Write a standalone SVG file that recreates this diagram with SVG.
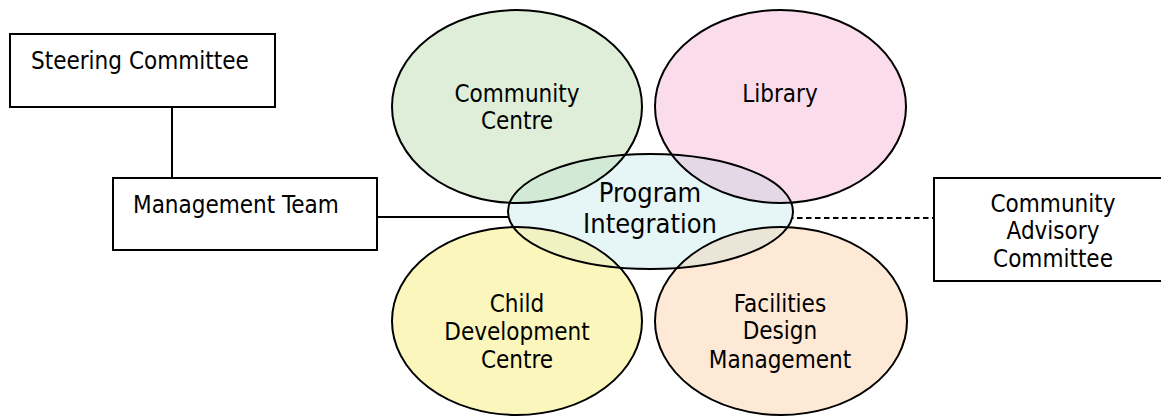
<svg xmlns="http://www.w3.org/2000/svg" width="1161" height="417" viewBox="0 0 1161 417">
<style>
text{font-family:"DejaVu Sans Condensed","Open Sans","DejaVu Sans",sans-serif;font-size:24px;fill:#000}
.c{text-anchor:middle}
.big{font-size:27px}
.box{fill:#fff;stroke:#000;stroke-width:2}
.ol{fill:none;stroke:#000;stroke-width:2}
.ln{fill:none;stroke:#000;stroke-width:2}
.e{stroke:#000;stroke-width:2}
</style>
<defs>
<clipPath id="pi"><ellipse cx="650.5" cy="211.5" rx="142.5" ry="57.5"/></clipPath>
</defs>
<rect width="1161" height="417" fill="#fff"/>
<g id="connectors">
<line class="ln" x1="172" y1="107" x2="172" y2="178"/>
<line class="ln" x1="377" y1="217" x2="508" y2="217"/>
<line class="ln" x1="788" y1="218" x2="934" y2="218" stroke-dasharray="5.5,3.5"/>
</g>
<g id="steering-committee">
<rect class="box" x="10" y="34" width="265" height="73"/>
<text x="31" y="69">Steering Committee</text>
</g>
<g id="management-team">
<rect class="box" x="113" y="178" width="264" height="72"/>
<text x="133" y="213">Management Team</text>
</g>
<g id="community-advisory-committee">
<rect class="box" x="934" y="178" width="240" height="103"/>
<text class="c" x="1053" y="212">Community</text>
<text class="c" x="1053" y="239">Advisory</text>
<text class="c" x="1053" y="267">Committee</text>
</g>
<g id="community-centre">
<ellipse class="e" cx="517" cy="106.5" rx="125" ry="96.5" fill="#dfeed8"/>
<text class="c" x="517" y="102">Community</text>
<text class="c" x="517" y="129">Centre</text>
</g>
<g id="library">
<ellipse class="e" cx="780.5" cy="106.5" rx="125.5" ry="96.5" fill="#fadcea"/>
<text class="c" x="780" y="102">Library</text>
</g>
<g id="child-development-centre">
<ellipse class="e" cx="517" cy="321" rx="125" ry="94" fill="#fbf6bc"/>
<text class="c" x="517" y="312">Child</text>
<text class="c" x="517" y="340">Development</text>
<text class="c" x="517" y="368">Centre</text>
</g>
<g id="facilities-design-management">
<ellipse class="e" cx="781" cy="321" rx="126" ry="94" fill="#fee9d6"/>
<text class="c" x="780" y="312">Facilities</text>
<text class="c" x="780" y="339">Design</text>
<text class="c" x="780" y="368">Management</text>
</g>
<g id="program-integration">
<ellipse cx="650.5" cy="211.5" rx="142.5" ry="57.5" fill="#e6f5f6"/>
<g id="overlaps" clip-path="url(#pi)">
<ellipse class="e" cx="517" cy="106.5" rx="125" ry="96.5" fill="#d2e9d5"/>
<ellipse class="e" cx="780.5" cy="106.5" rx="125.5" ry="96.5" fill="#e4d7e6"/>
<ellipse class="e" cx="517" cy="321" rx="125" ry="94" fill="#f1f2c2"/>
<ellipse class="e" cx="781" cy="321" rx="126" ry="94" fill="#ebe5d8"/>
</g>
<ellipse class="ol" cx="650.5" cy="211.5" rx="142.5" ry="57.5"/>
<text class="c big" x="650" y="202">Program</text>
<text class="c big" x="650" y="233">Integration</text>
</g>
</svg>
